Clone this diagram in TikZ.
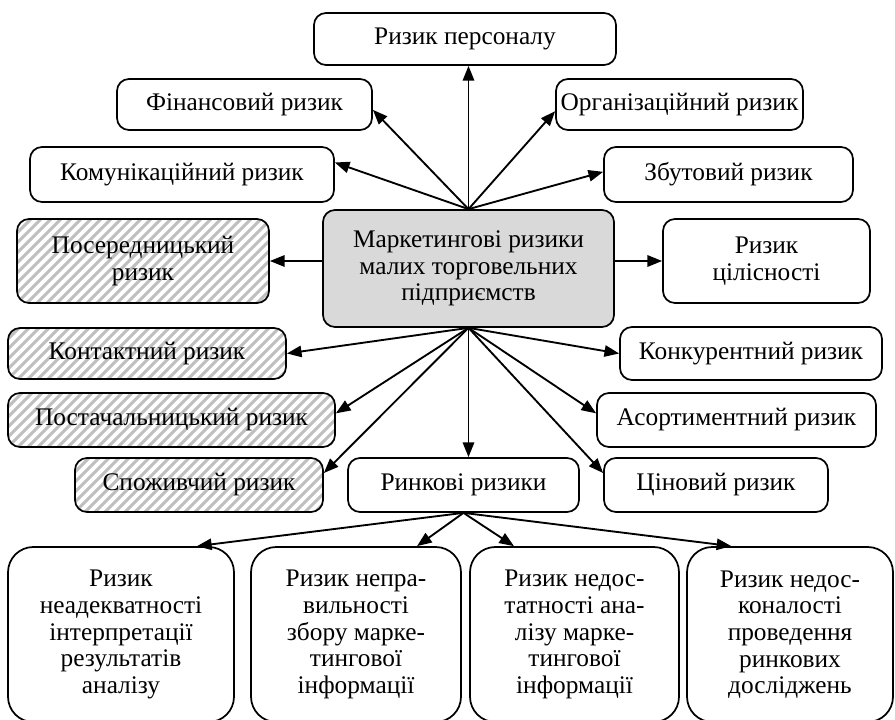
\documentclass[tikz,border=0pt]{standalone}
\usepackage{fontspec}
\setmainfont{Liberation Serif}
\usetikzlibrary{arrows.meta}

\tikzset{
  wh/.style 2 args={minimum width=#1*0.75pt, minimum height=#2*0.75pt},
  box/.style={draw, line width=1.3pt, rounded corners=9pt, inner sep=0pt,
    align=center, font=\fontsize{19}{20}\selectfont},
  hatchline/.style={line width=2.2pt, draw=black!25},
  hatched/.style={box, path picture={
      \foreach \k in {-14,...,36}
        \draw[hatchline] ([xshift=\k*7.5pt]path picture bounding box.south west) -- ++(90pt,90pt);}},
  core/.style={box, fill=black!15},
  tall/.style={box, rounded corners=19pt},
  arr/.style={line width=1.4pt, -{Triangle[length=11pt,width=8.5pt]}},
}

\begin{document}
\begin{tikzpicture}[x=0.75pt, y=-0.75pt]
\useasboundingbox (0,0) rectangle (895,720);

% central node
\node[core, wh={291}{117}] (c) at (468.5,268.5)
  {Маркетингові ризики\\малих торговельних\\підприємств};

% upper fan
\node[box, wh={302}{52}] (pers) at (465,39) {Ризик персоналу};
\node[box, wh={255}{51}] (fin) at (244.5,104.5) {Фінансовий ризик};
\node[box, wh={247}{51}] (org) at (679.5,104.5) {Організаційний ризик};
\node[box, wh={304}{55}] (kom) at (182,174.5) {Комунікаційний ризик};
\node[box, wh={249}{55}] (zbut) at (728.5,174.5) {Збутовий ризик};

% sides
\node[hatched, wh={252}{84}] (poser) at (143,261) {Посередницький\\ризик};
\node[box, wh={207}{84}] (tsil) at (766.5,261) {Ризик\\цілісності};

% lower fan
\node[hatched, wh={278}{51}] (kont) at (147,353.5) {Контактний ризик};
\node[box, wh={262}{53}] (konk) at (751,353.5) {Конкурентний ризик};
\node[hatched, wh={327}{54}] (post) at (171.5,420) {Постачальницький ризик};
\node[box, wh={279}{54}] (asort) at (736.5,420) {Асортиментний ризик};
\node[hatched, wh={248}{54}] (spoj) at (199,485) {Споживчий ризик};
\node[box, wh={231}{54}] (rynk) at (463.5,485) {Ринкові ризики};
\node[box, wh={224}{54}] (tsin) at (716,485) {Ціновий ризик};

% market risks
\node[tall, wh={226}{175}] (b1) at (121,634.5)
  {Ризик\\неадекватності\\інтерпретації\\результатів\\аналізу};
\node[tall, wh={210}{175}] (b2) at (356,634.5)
  {Ризик непра-\\вильності\\збору марке-\\тингової\\інформації};
\node[tall, wh={209}{175}] (b3) at (574.5,634.5)
  {Ризик недос-\\татності ана-\\лізу марке-\\тингової\\інформації};
\node[tall, wh={206}{175}] (b4) at (790,634.5)
  {Ризик недос-\\коналості\\проведення\\ринкових\\досліджень};

% connectors from the central node
\draw[arr] (c.north) -- (c.north |- pers.south);
\draw[arr] (c.north) -- ([yshift=-4pt]fin.east);
\draw[arr] (c.north) -- ([yshift=-5pt]org.west);
\draw[arr] (c.north) -- ([yshift=9pt]kom.east);
\draw[arr] (c.north) -- ([yshift=2pt]zbut.west);
\draw[arr] (c.west |- poser.east) -- (poser.east);
\draw[arr] (c.east |- tsil.west) -- (tsil.west);
\draw[arr] (c.south) -- (kont.east);
\draw[arr] (c.south) -- (konk.west);
\draw[arr] (c.south) -- ([yshift=5pt]post.east);
\draw[arr] (c.south) -- ([yshift=5pt]asort.west);
\draw[arr] (c.south) -- ([yshift=9pt]spoj.east);
\draw[arr] (c.south) -- ([yshift=9pt]tsin.west);
\draw[arr] (c.south) -- (c.south |- rynk.north);

% connectors from market risks
\draw[arr] (rynk.south) -- ([xshift=57pt]b1.north);
\draw[arr] (rynk.south) -- ([xshift=45.75pt]b2.north);
\draw[arr] (rynk.south) -- ([xshift=-45.4pt]b3.north);
\draw[arr] (rynk.south) -- ([xshift=-44pt]b4.north);
\end{tikzpicture}
\end{document}
